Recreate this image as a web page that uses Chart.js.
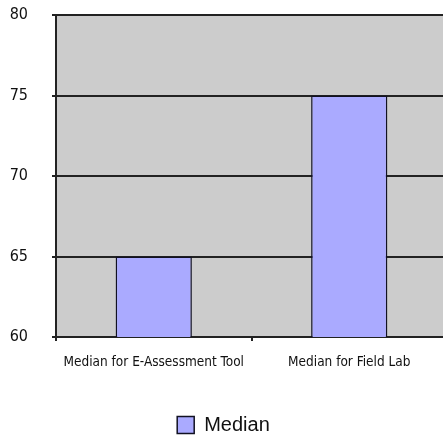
<!DOCTYPE html>
<html>
<head>
<meta charset="utf-8">
<script src="https://cdn.jsdelivr.net/npm/chart.js@4/dist/chart.umd.min.js"></script>
<style>
  html, body { margin: 0; padding: 0; background: #fff; overflow: hidden; }
  #wrap { width: 450px; height: 445px; }
</style>
</head>
<body>
<div id="wrap"><canvas id="c" width="450" height="445"></canvas></div>
<script>
const categories = ['Median for E-Assessment Tool', 'Median for Field Lab'];
const medianValues = [65, 75];
const seriesName = 'Median';
const yMin = 60, yMax = 80, yStep = 5;

// grey plot background behind the grid
const plotBackground = {
  id: 'plotBackground',
  beforeDraw(chart) {
    const { ctx, chartArea: a } = chart;
    ctx.save();
    ctx.fillStyle = '#cccccc';
    ctx.fillRect(a.left, a.top, a.right - a.left, a.bottom - a.top);
    ctx.restore();
  }
};

new Chart(document.getElementById('c'), {
  type: 'bar',
  data: {
    labels: categories,
    datasets: [{
      label: seriesName,
      data: medianValues,
      backgroundColor: '#aaaaff',
      borderColor: '#111122',
      borderWidth: 1.5,
      categoryPercentage: 1,
      barPercentage: 0.39
    }]
  },
  options: {
    responsive: false,
    animation: false,
    layout: { padding: { top: 0, right: 3, left: 0, bottom: 0 } },
    plugins: {
      tooltip: { enabled: false },
      legend: {
        position: 'bottom',
        labels: {
          color: '#111',
          font: { family: 'Liberation Sans', size: 20 },
          boxWidth: 17,
          boxHeight: 17,
          padding: 6
        }
      }
    },
    scales: {
      x: {
        afterFit(s) { s.height = 72; },
        grid: {
          display: true,
          drawOnChartArea: false,
          drawTicks: true,
          tickLength: 4,
          color: '#222',
          lineWidth: 2,
          offset: true
        },
        border: { display: true, color: '#222', width: 2 },
        ticks: {
          color: '#111',
          padding: 13,
          maxRotation: 0,
          font: { family: 'DejaVu Sans Condensed', size: 13.5 }
        }
      },
      y: {
        min: yMin,
        max: yMax,
        afterFit(s) {
          s.width = 56;
          s.paddingTop = 15;
          s.paddingBottom = 0;
        },
        grid: { color: '#222', lineWidth: 2, tickLength: 4 },
        border: { display: true, color: '#222', width: 2 },
        ticks: {
          stepSize: yStep,
          color: '#111',
          padding: 24,
          font: { family: 'DejaVu Sans Condensed', size: 16 }
        }
      }
    }
  },
  plugins: [plotBackground]
});
</script>
</body>
</html>
